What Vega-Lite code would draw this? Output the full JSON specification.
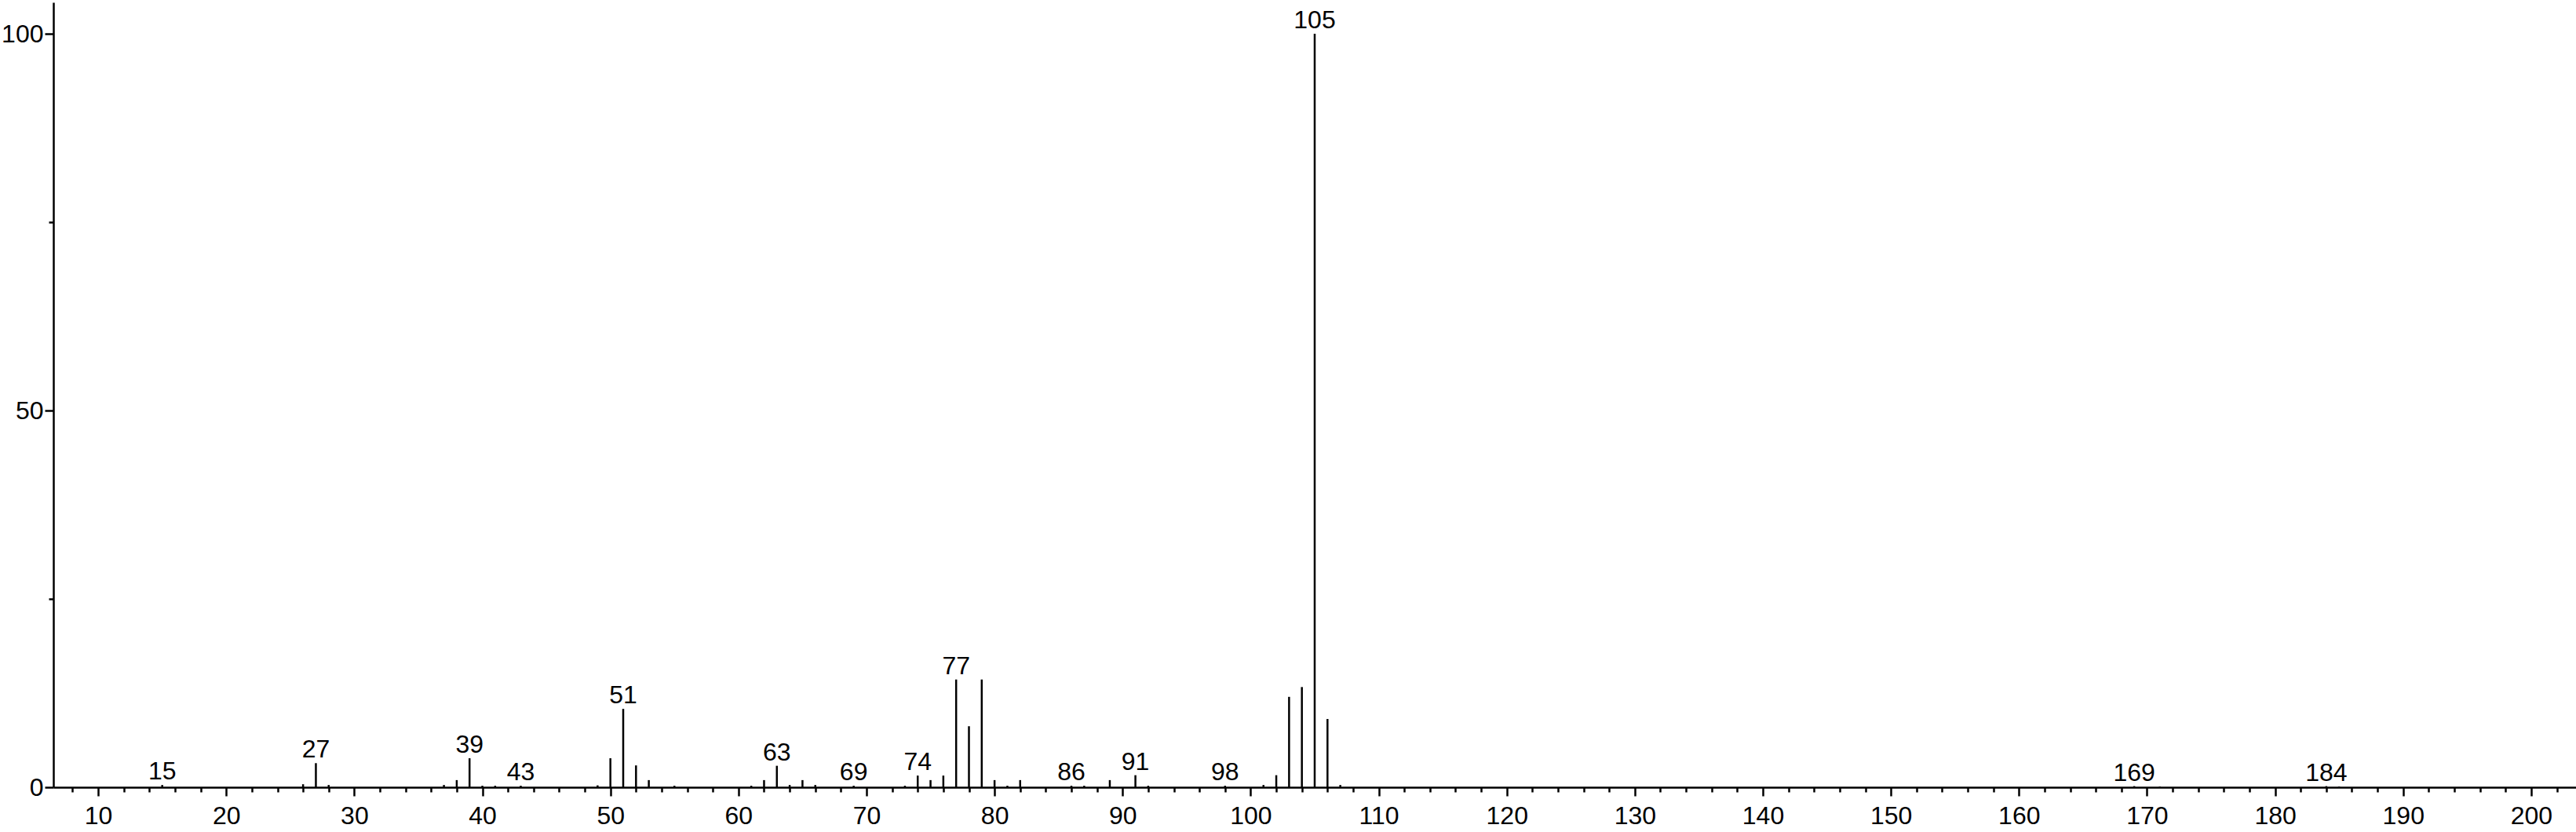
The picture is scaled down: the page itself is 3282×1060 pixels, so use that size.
{
  "$schema": "https://vega.github.io/schema/vega-lite/v6.json",
  "autosize": "none",
  "width": 3214,
  "height": 1000,
  "padding": {"left": 68, "top": 3, "right": 0, "bottom": 57},
  "background": "white",
  "config": {
    "view": {"stroke": null},
    "font": "Liberation Sans, Arial, sans-serif"
  },
  "data": {
    "values": [
      {"mz": 15, "intensity": 0.3, "label": "15"},
      {"mz": 26, "intensity": 0.4, "label": ""},
      {"mz": 27, "intensity": 3.2, "label": "27"},
      {"mz": 28, "intensity": 0.3, "label": ""},
      {"mz": 37, "intensity": 0.3, "label": ""},
      {"mz": 38, "intensity": 0.95, "label": ""},
      {"mz": 39, "intensity": 3.85, "label": "39"},
      {"mz": 40, "intensity": 0.2, "label": ""},
      {"mz": 41, "intensity": 0.2, "label": ""},
      {"mz": 43, "intensity": 0.2, "label": "43"},
      {"mz": 49, "intensity": 0.25, "label": ""},
      {"mz": 50, "intensity": 3.85, "label": ""},
      {"mz": 51, "intensity": 10.4, "label": "51"},
      {"mz": 52, "intensity": 2.9, "label": ""},
      {"mz": 53, "intensity": 0.95, "label": ""},
      {"mz": 55, "intensity": 0.2, "label": ""},
      {"mz": 61, "intensity": 0.2, "label": ""},
      {"mz": 62, "intensity": 0.95, "label": ""},
      {"mz": 63, "intensity": 2.85, "label": "63"},
      {"mz": 64, "intensity": 0.3, "label": ""},
      {"mz": 65, "intensity": 0.95, "label": ""},
      {"mz": 66, "intensity": 0.3, "label": ""},
      {"mz": 69, "intensity": 0.2, "label": "69"},
      {"mz": 73, "intensity": 0.2, "label": ""},
      {"mz": 74, "intensity": 1.55, "label": "74"},
      {"mz": 75, "intensity": 0.95, "label": ""},
      {"mz": 76, "intensity": 1.55, "label": ""},
      {"mz": 77, "intensity": 14.3, "label": "77"},
      {"mz": 78, "intensity": 8.1, "label": ""},
      {"mz": 79, "intensity": 14.3, "label": ""},
      {"mz": 80, "intensity": 0.95, "label": ""},
      {"mz": 81, "intensity": 0.2, "label": ""},
      {"mz": 82, "intensity": 0.95, "label": ""},
      {"mz": 86, "intensity": 0.2, "label": "86"},
      {"mz": 87, "intensity": 0.2, "label": ""},
      {"mz": 89, "intensity": 0.95, "label": ""},
      {"mz": 91, "intensity": 1.6, "label": "91"},
      {"mz": 92, "intensity": 0.2, "label": ""},
      {"mz": 98, "intensity": 0.2, "label": "98"},
      {"mz": 101, "intensity": 0.3, "label": ""},
      {"mz": 102, "intensity": 1.6, "label": ""},
      {"mz": 103, "intensity": 12.0, "label": ""},
      {"mz": 104, "intensity": 13.3, "label": ""},
      {"mz": 105, "intensity": 100, "label": "105"},
      {"mz": 106, "intensity": 9.06, "label": ""},
      {"mz": 107, "intensity": 0.3, "label": ""},
      {"mz": 169, "intensity": 0.15, "label": "169"},
      {"mz": 171, "intensity": 0.1, "label": ""},
      {"mz": 184, "intensity": 0.15, "label": "184"},
      {"mz": 185, "intensity": 0.1, "label": ""}
    ]
  },
  "encoding": {
    "x": {
      "field": "mz",
      "type": "quantitative",
      "scale": {"domain": [6.5, 203.5], "nice": false, "zero": false},
      "axis": {
        "title": null,
        "values": [8,10,12,14,16,18,20,22,24,26,28,30,32,34,36,38,40,42,44,46,48,50,52,54,56,58,60,62,64,66,68,70,72,74,76,78,80,82,84,86,88,90,92,94,96,98,100,102,104,106,108,110,112,114,116,118,120,122,124,126,128,130,132,134,136,138,140,142,144,146,148,150,152,154,156,158,160,162,164,166,168,170,172,174,176,178,180,182,184,186,188,190,192,194,196,198,200,202],
        "labelExpr": "datum.value % 10 === 0 ? datum.label : ''",
        "tickSize": {"condition": {"test": "datum.value % 10 === 0", "value": 11}, "value": 6},
        "tickWidth": 2.5,
        "tickColor": "black",
        "domainColor": "black",
        "domainWidth": 2.5,
        "grid": false,
        "labelFontSize": 32,
        "labelColor": "black",
        "labelPadding": 10,
        "labelFlush": false,
        "labelOverlap": false
      }
    },
    "y": {
      "field": "intensity",
      "type": "quantitative",
      "scale": {"domain": [0, 104.17], "nice": false},
      "axis": {
        "title": null,
        "values": [0, 25, 50, 75, 100],
        "labelExpr": "datum.value % 50 === 0 ? datum.label : ''",
        "tickSize": {"condition": {"test": "datum.value % 50 === 0", "value": 11}, "value": 6},
        "tickWidth": 2.5,
        "tickColor": "black",
        "domainColor": "black",
        "domainWidth": 2.5,
        "grid": false,
        "labelFontSize": 32,
        "labelColor": "black",
        "labelPadding": 2,
        "labelFlush": false,
        "labelOverlap": false
      }
    }
  },
  "layer": [
    {
      "mark": {"type": "rule", "color": "black", "strokeWidth": 2.5},
      "encoding": {"y2": {"datum": 0}}
    },
    {
      "transform": [{"filter": "datum.label !== ''"}],
      "mark": {"type": "text", "baseline": "alphabetic", "align": "center", "dy": -7, "fontSize": 32, "color": "black"},
      "encoding": {"text": {"field": "label"}}
    }
  ]
}
